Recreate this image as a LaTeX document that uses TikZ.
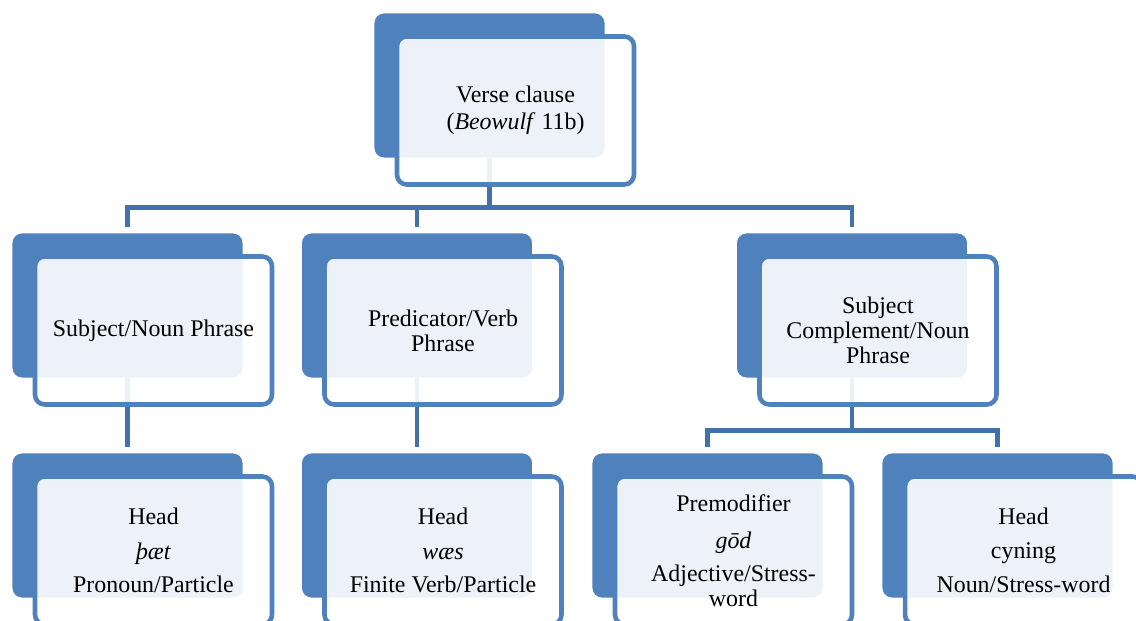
\documentclass[tikz,border=0pt]{standalone}
\usepackage{fontspec}
\setmainfont{Liberation Serif}
\usepackage{xcolor}
\usetikzlibrary{calc}
\definecolor{accentblue}{RGB}{79,129,189}
\definecolor{linkblue}{RGB}{66,114,172}

\begin{document}
\begin{tikzpicture}[x=0.02cm, y=-0.02cm,
  every node/.style={font=\fontsize{13.6}{14.2}\selectfont},
  back/.style={rectangle, rounded corners=5.5pt, fill=accentblue, draw=white, line width=0.5pt, minimum width=4.62cm, minimum height=2.9cm},
  front/.style={rectangle, rounded corners=5.5pt, draw=accentblue, line width=2.6pt, fill=white, fill opacity=0.9, text opacity=1, minimum width=4.74cm, minimum height=2.96cm, align=center, inner sep=0pt},
  link/.style={draw=linkblue, line width=2.8pt, shorten >=3.4pt}]
\path[use as bounding box, clip] (0,0) rectangle (1136,621);

% dark back plates
\node[back] (clause) at (489.5,85.5) {};
\node[back] (subj) at (127.5,305.5) {};
\node[back] (pred) at (417,305.5) {};
\node[back] (comp) at (852,305.5) {};
\node[back] (headA) at (127.5,525.5) {};
\node[back] (headB) at (417,525.5) {};
\node[back] (premod) at (707.5,525.5) {};
\node[back] (headC) at (997.5,525.5) {};

% tree links, under the light front plates
\foreach \n in {subj,pred,comp} {\draw[link] (clause.south) -- ++(0,49.5) -| (\n.north);}
\draw[link] (subj.south) -- (headA.north);
\draw[link] (pred.south) -- (headB.north);
\foreach \n in {premod,headC} {\draw[link] (comp.south) -- ++(0,52) -| (\n.north);}

% front plates with the labels
\node[front] (clauseF) at ($(clause)+(26,25)$) {Verse clause\\[1.1pt](\textit{Beowulf} 11b)};
\node[front] (subjF) at ($(subj)+(26,25)$) {Subject/Noun Phrase};
\node[front] (predF) at ($(pred)+(26,25)$) {Predicator/Verb\\Phrase};
\node[front] (compF) at ($(comp)+(26,25)$) {Subject\\Complement/Noun\\Phrase};
\node[front] (headAF) at ($(headA)+(26,25)$) {Head\\[5.6pt]\textit{þæt}\\[4.5pt]Pronoun/Particle};
\node[front] (headBF) at ($(headB)+(26,25)$) {Head\\[5.6pt]\textit{wæs}\\[4.5pt]Finite Verb/Particle};
\node[front] (premodF) at ($(premod)+(26,25)$) {Premodifier\\[6.8pt]\textit{gōd}\\[4.5pt]Adjective/Stress-\\word};
\node[front] (headCF) at ($(headC)+(26,25)$) {Head\\[5pt]cyning\\[5.6pt]Noun/Stress-word};
\end{tikzpicture}
\end{document}
